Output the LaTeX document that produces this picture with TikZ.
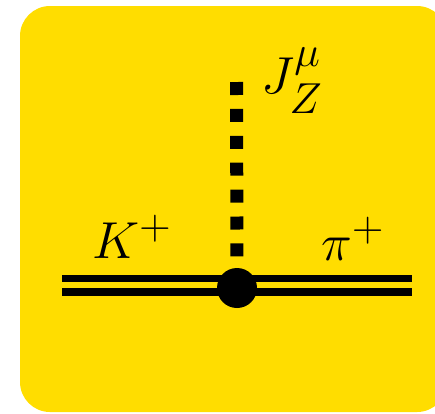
\documentclass[tikz,border=0pt]{standalone}
\usepackage{amssymb,amsmath}
\usepackage{tikz}
\usetikzlibrary{calc}

\definecolor{zyellow}{RGB}{255,221,0}

\begin{document}
\begin{tikzpicture}[x=1pt, y=1pt, font=\Huge,
		meson/.style={draw=black, line width=7.5pt, double=zyellow, double distance=6pt},
		current/.style={draw=black, line width=13pt, dash pattern=on 13pt off 13.9pt},
		vertex/.style={circle, fill=black, minimum size=40pt, inner sep=0pt},
		lbl/.style={inner sep=0pt, anchor=base west, scale=2.09}]
		\useasboundingbox (0,0) rectangle (435,-413);
		\clip (0,0) rectangle (435,-413);
		% background card
		\fill[zyellow, rounded corners=30pt] (20,-6) rectangle (447,-412);
		% vertex and end points
		\coordinate (kin) at (62,-285);
		\coordinate (pout) at (412,-285);
		\coordinate (zend) at (236.5,-82);
		\draw[meson] (kin) -- (pout);
		\node[vertex] (v) at (237,-288) {};
		\draw[current] (zend) -- (v.north);
		% labels
		\node[lbl] (lblK) at (92,-258) {$K^+$};
		\node[lbl] (lblpi) at (321,-260) {$\pi^+$};
		\node[lbl] (lblJ) at (261,-93) {$J_Z^\mu$};
	\end{tikzpicture}
\end{document}
